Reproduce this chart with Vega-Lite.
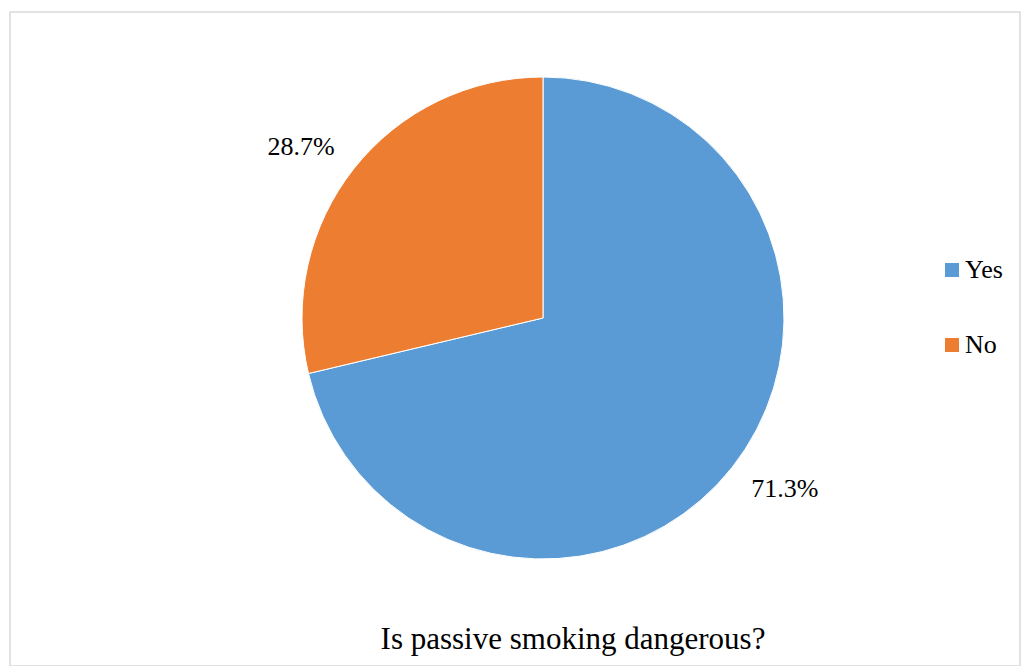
{
  "$schema": "https://vega.github.io/schema/vega-lite/v6.json",
  "width": 1010,
  "height": 654,
  "autosize": {"type": "none"},
  "padding": {"left": 10, "top": 12, "right": 4, "bottom": 0},
  "background": "white",
  "view": {"stroke": "#d9d9d9", "strokeWidth": 1.5},
  "config": {
    "view": {"stroke": "#d9d9d9", "strokeWidth": 1.5}
  },
  "title": {
    "text": "Is passive smoking dangerous?",
    "orient": "bottom",
    "anchor": "middle",
    "baseline": "alphabetic",
    "offset": -17,
    "dx": 58,
    "fontSize": 31,
    "fontWeight": "normal",
    "font": "Liberation Serif",
    "color": "black"
  },
  "data": {
    "values": [
      {"answer": "Yes", "pct": 71.3, "label": "71.3%", "order": 1},
      {"answer": "No", "pct": 28.7, "label": "28.7%", "order": 2}
    ]
  },
  "encoding": {
    "theta": {"field": "pct", "type": "quantitative", "stack": true},
    "order": {"field": "order", "type": "quantitative"}
  },
  "layer": [
    {
      "mark": {
        "type": "arc",
        "outerRadius": 241,
        "stroke": "white",
        "strokeWidth": 1,
        "x": {"expr": "width/2 + 28"},
        "y": {"expr": "height/2 - 21"}
      },
      "encoding": {
        "color": {
          "field": "answer",
          "type": "nominal",
          "sort": ["Yes", "No"],
          "scale": {"domain": ["Yes", "No"], "range": ["#5B9BD5", "#ED7D31"]},
          "legend": {
            "title": null,
            "orient": "none",
            "legendX": 929,
            "legendY": 245,
            "symbolType": "square",
            "symbolSize": 196,
            "symbolStrokeWidth": 0,
            "labelFont": "Liberation Serif",
            "labelFontSize": 26,
            "labelColor": "black",
            "labelOffset": 0,
            "rowPadding": 49,
            "padding": 0
          }
        }
      }
    },
    {
      "mark": {
        "type": "text",
        "radius": 296,
        "fontSize": 26,
        "font": "Liberation Serif",
        "color": "black",
        "x": {"expr": "width/2 + 28"},
        "y": {"expr": "height/2 - 21"}
      },
      "encoding": {
        "theta": {"field": "pct", "type": "quantitative", "stack": true, "scale": {"range": [-0.055, 6.2282]}},
        "text": {"field": "label", "type": "nominal"}
      }
    }
  ],
  "resolve": {"scale": {"theta": "independent"}}
}
